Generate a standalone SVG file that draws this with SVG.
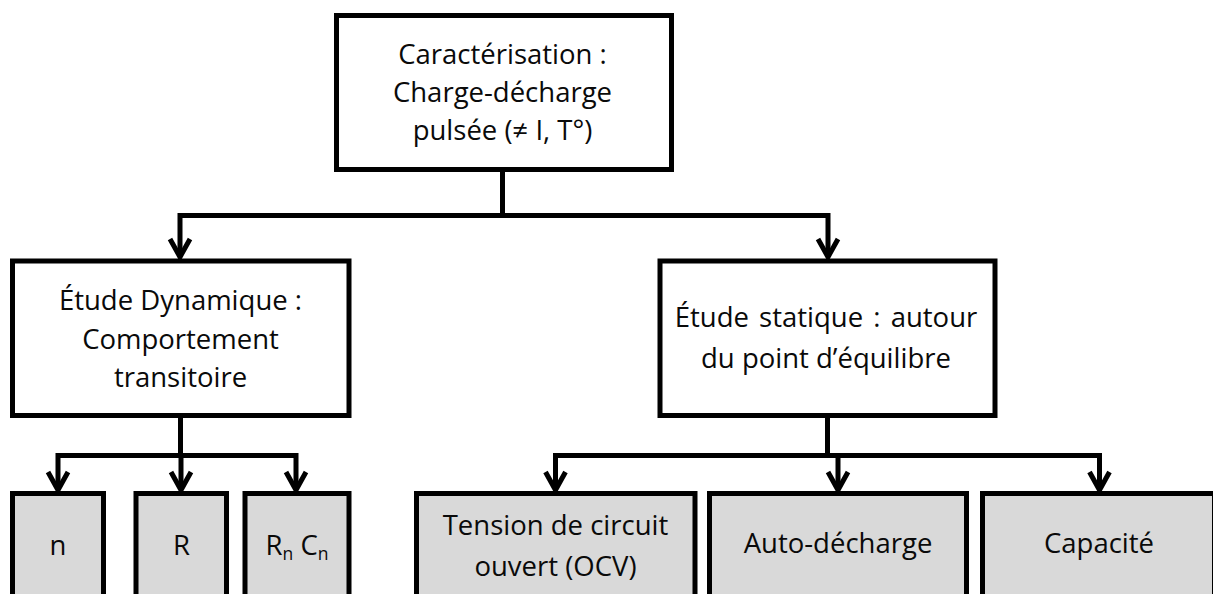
<svg xmlns="http://www.w3.org/2000/svg" width="1213" height="594" viewBox="0 0 1213 594">
<defs>
<style>
.box{fill:#fff;stroke:#000;stroke-width:5;}
.leaf{fill:#d9d9d9;stroke:#000;stroke-width:5;}
.t{font-family:"Open Sans",Lato,sans-serif;font-size:27.5px;fill:#0a0a0a;text-anchor:middle;}
.c{fill:none;stroke:#000;stroke-width:5;stroke-linejoin:miter;}
.ah{fill:none;stroke:#000;stroke-width:5;stroke-linejoin:miter;stroke-linecap:butt;}
</style>
</defs>
<rect width="1213" height="594" fill="#fff"/>
<g id="connectors">
<path class="c" d="M502.5,169.5 V215.5"/>
<path class="c" d="M180,257 V215.5 H828 V257"/>
<path class="c" d="M180.5,415.5 V455.5"/>
<path class="c" d="M58,490 V455.5 H296 V490"/>
<path class="c" d="M181,455.5 V490"/>
<path class="c" d="M827.5,415.5 V455.5"/>
<path class="c" d="M555.5,490 V455.5 H1099.5 V490"/>
<path class="c" d="M838,455.5 V490"/>
<g class="ah">
<polyline points="170,239 180,257 190,239"/>
<polyline points="818,239 828,257 838,239"/>
<polyline points="48,472 58,490 68,472"/>
<polyline points="171,472 181,490 191,472"/>
<polyline points="286,472 296,490 306,472"/>
<polyline points="545.5,472 555.5,490 565.5,472"/>
<polyline points="828,472 838,490 848,472"/>
<polyline points="1089.5,472 1099.5,490 1109.5,472"/>
</g>
</g>
<g id="top">
<rect class="box" x="336.5" y="15.5" width="335" height="154"/>
<text class="t" x="502.5" y="64">Caractérisation :</text>
<text class="t" x="502.5" y="102">Charge-décharge</text>
<text class="t" x="502.5" y="140">pulsée (≠ I, T°)</text>
</g>
<g id="dynamique">
<rect class="box" x="12.5" y="261" width="336.5" height="154.5"/>
<text class="t" x="180.5" y="310">Étude Dynamique :</text>
<text class="t" x="180.5" y="349">Comportement</text>
<text class="t" x="180.5" y="387">transitoire</text>
</g>
<g id="statique">
<rect class="box" x="660" y="261" width="335" height="154.5"/>
<text class="t" x="826" y="327" word-spacing="3">Étude statique : autour</text>
<text class="t" x="826" y="368">du point d’équilibre</text>
</g>
<g id="n">
<rect class="leaf" x="12.5" y="493.5" width="91" height="150"/>
<text class="t" x="58" y="555">n</text>
</g>
<g id="R">
<rect class="leaf" x="136" y="493.5" width="90.5" height="150"/>
<text class="t" x="181.5" y="555">R</text>
</g>
<g id="RnCn">
<rect class="leaf" x="245" y="493.5" width="104" height="150"/>
<text class="t" x="297" y="555">R<tspan font-size="17.5" dy="5">n</tspan><tspan dy="-5"> C</tspan><tspan font-size="17.5" dy="5">n</tspan></text>
</g>
<g id="ocv">
<rect class="leaf" x="416.5" y="493.5" width="278.5" height="150"/>
<text class="t" x="555.5" y="535">Tension de circuit</text>
<text class="t" x="555.5" y="576">ouvert (OCV)</text>
</g>
<g id="auto">
<rect class="leaf" x="709.5" y="493.5" width="257" height="150"/>
<text class="t" x="838" y="553">Auto-décharge</text>
</g>
<g id="capacite">
<rect class="leaf" x="982.5" y="493.5" width="232" height="150"/>
<text class="t" x="1099" y="553">Capacité</text>
</g>
</svg>
